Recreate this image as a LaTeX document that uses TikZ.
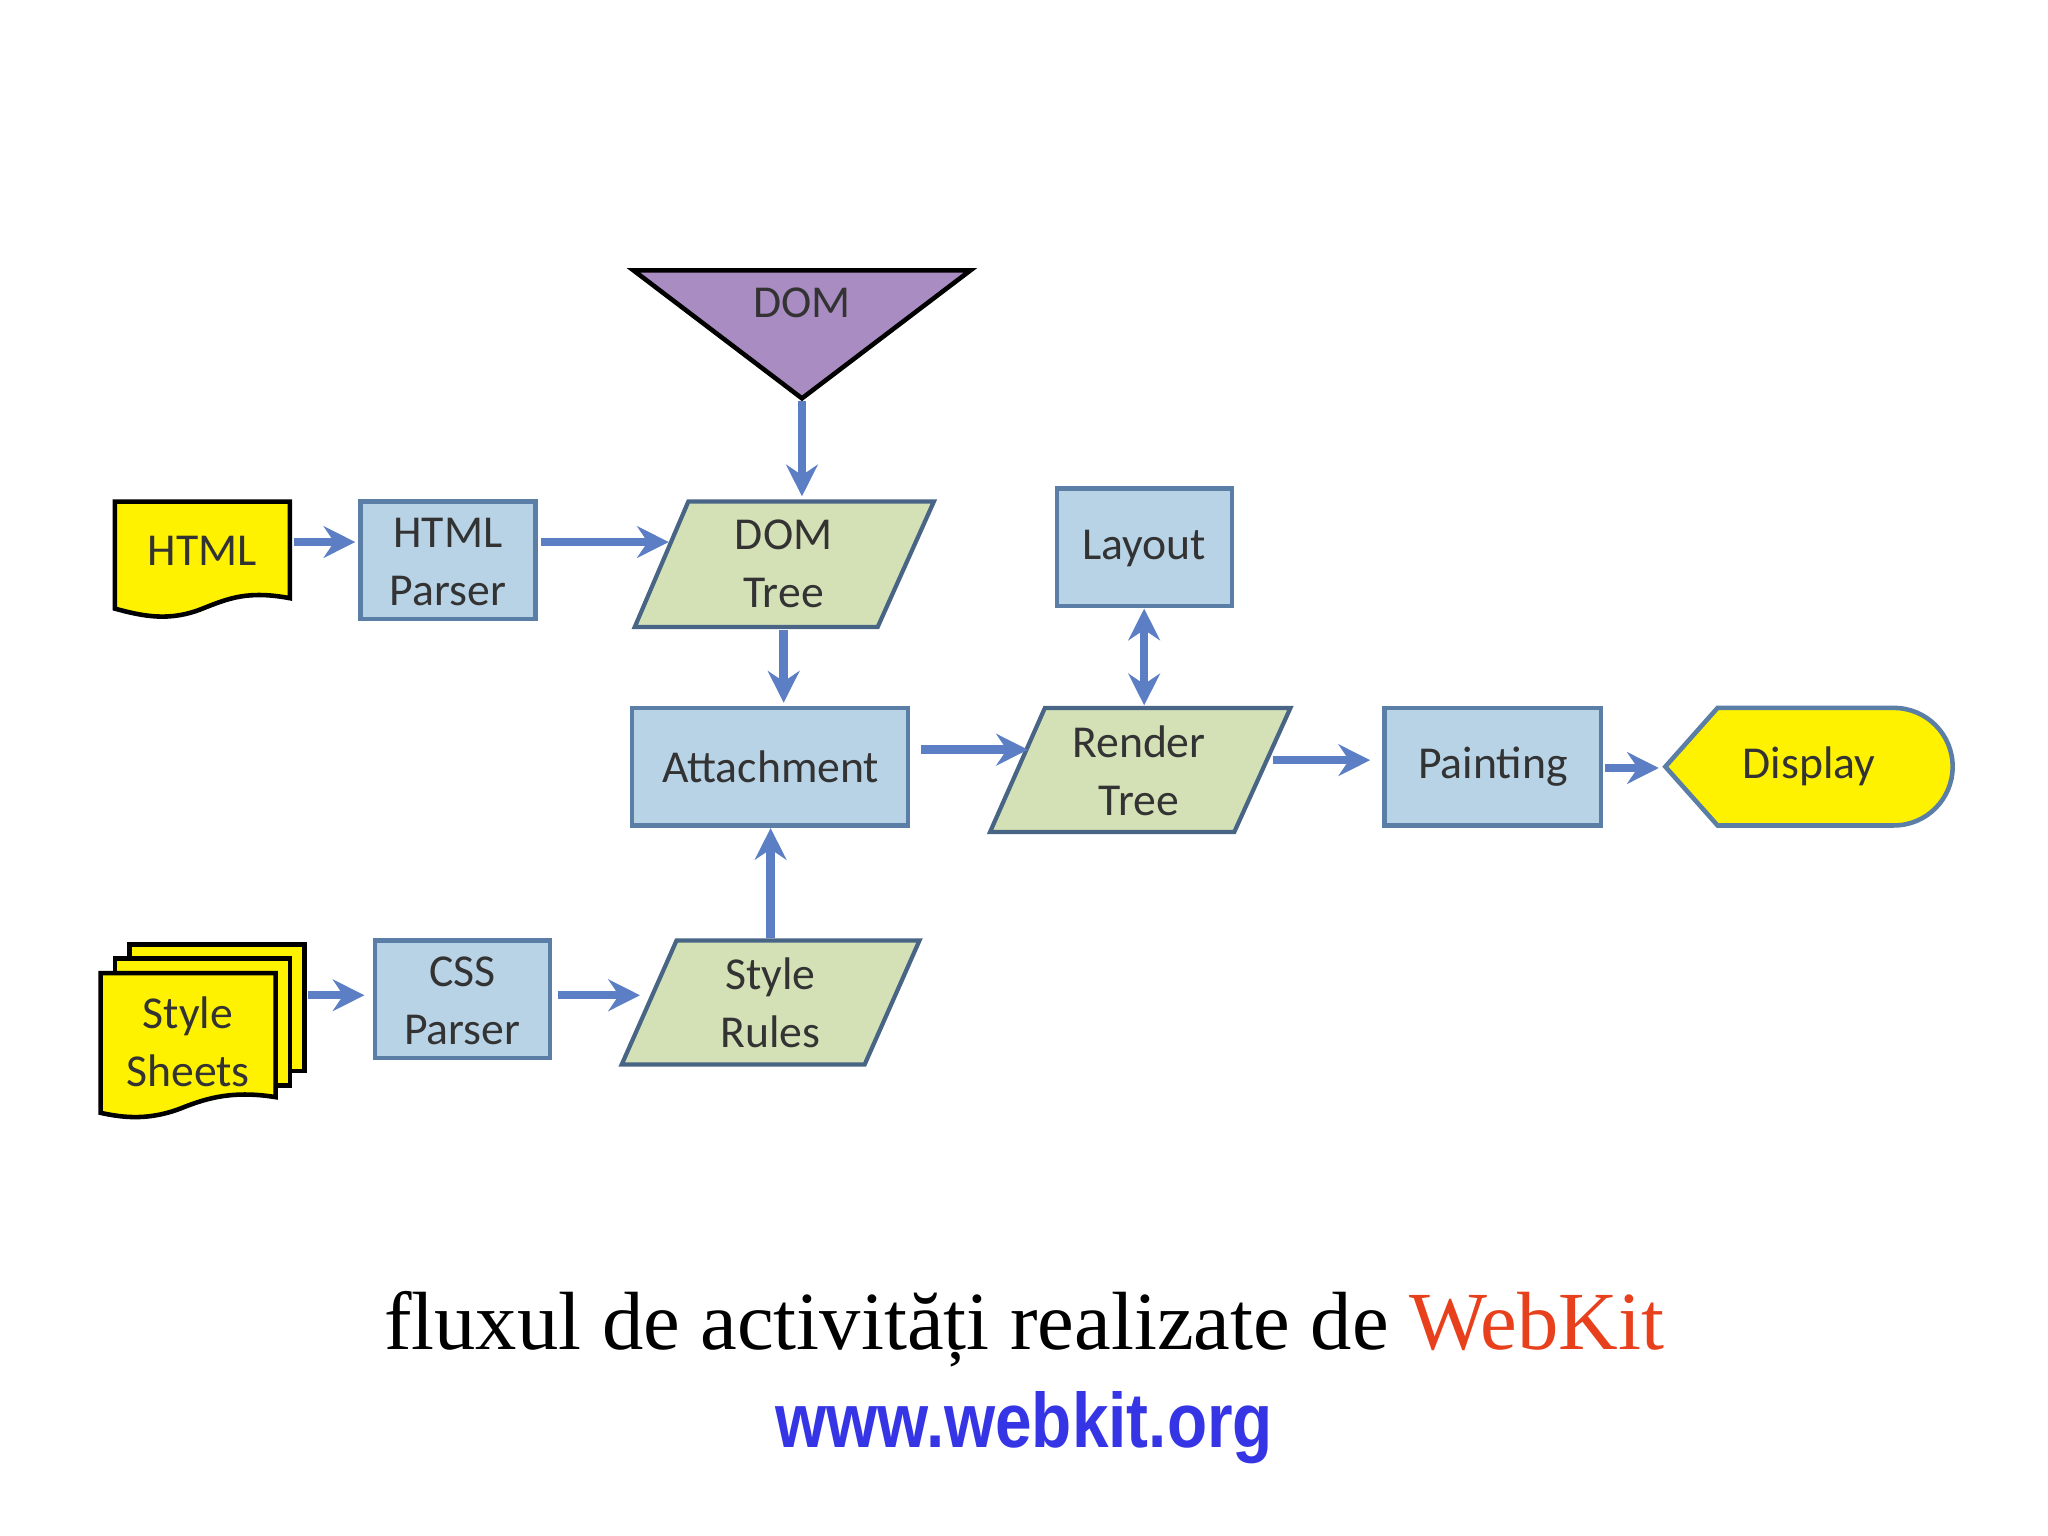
\documentclass[tikz,border=0pt]{standalone}
\usepackage{fontspec}
\setmainfont{Liberation Serif}
\newfontfamily\boxfont{Carlito}
\newfontfamily\urlfont{Liberation Sans}
\usetikzlibrary{arrows.meta}
\definecolor{boxblue}{HTML}{B8D3E6}
\definecolor{edge}{HTML}{5A7EA6}
\definecolor{para}{HTML}{D4E1B7}
\definecolor{purp}{HTML}{A98DC2}
\definecolor{arr}{HTML}{5B7EC4}
\definecolor{txt}{HTML}{333333}
\definecolor{wk}{HTML}{E8401C}
\definecolor{url}{HTML}{3535E6}
\begin{document}
\begin{tikzpicture}[x=0.01306cm,y=-0.01306cm,
  box/.style={draw=edge,line width=1.2pt,fill=boxblue},
  pg/.style={draw=edge!80!black,line width=1.2pt,fill=para},
  doc/.style={draw=black,line width=1.3pt,fill=yellow},
  lbl/.style={font=\boxfont\fontsize{13}{16.5}\selectfont,text=txt,align=center},
  ar/.style={draw=arr,line width=2.4pt,-{Stealth[length=9pt,width=9pt,inset=3pt]}},
  ar2/.style={draw=arr,line width=2.4pt,{Stealth[length=9pt,width=9pt,inset=3pt]}-{Stealth[length=9pt,width=9pt,inset=3pt]}}]
\useasboundingbox (0,0) rectangle (1568,1176);
% DOM triangle
\draw[fill=purp,draw=black,line width=1.3pt] (485,207) -- (743,207) -- (614,305) -- cycle;
\node[lbl] (dom) at (614,232) {DOM};
\coordinate (domtip) at (614,307);
% HTML doc
\draw[doc] (88,384) -- (222,384) -- (222,458) .. controls (190,452) and (175,458) .. (155,466) .. controls (130,476) and (110,472) .. (88,466) -- cycle;
\node[lbl] (html) at (155,422) {HTML};
\coordinate (htmlE) at (225,415);
% HTML parser
\draw[box] (276,384) rectangle (410,474);
\node[lbl] (hp) at (343,430) {HTML\\Parser};
\coordinate (hpE) at (414,415);
\coordinate (hpW) at (272,415);
% DOM Tree
\draw[pg] (527,384) -- (715,384) -- (672,480) -- (486,480) -- cycle;
\node[lbl] (dt) at (600,432) {DOM\\Tree};
\coordinate (dtW) at (512,415);
\coordinate (dtN) at (614,380);
\coordinate (dtS) at (600,482);
% Layout
\draw[box] (809,374) rectangle (943,464);
\node[lbl] (lay) at (876,420) {Layout};
\coordinate (layS) at (876,466);
% Attachment
\draw[box] (484,542) rectangle (695,632);
\node[lbl] (att) at (590,587) {Attachment};
\coordinate (attN) at (600,538);
\coordinate (attE) at (705,574);
\coordinate (attS) at (590,634);
% Render Tree
\draw[pg] (800,542) -- (988,542) -- (945,637) -- (758,637) -- cycle;
\node[lbl] (rt) at (872,590) {Render\\Tree};
\coordinate (rtW) at (787,574);
\coordinate (rtN) at (876,540);
\coordinate (rtE) at (975,582);
% Painting
\draw[box] (1060,542) rectangle (1226,632);
\node[lbl] (pa) at (1143,587) {Painting};
\coordinate (paW) at (1049,582);
\coordinate (paE) at (1229,588);
% Display
\draw[fill=yellow,draw=edge,line width=1.3pt] (1275,587) -- (1315,542) -- (1450,542) arc (-90:90:45) -- (1315,632) -- cycle;
\node[lbl] (di) at (1385,587) {Display};
\coordinate (diW) at (1270,588);
% Style sheets
\foreach \d in {22,11}{
\draw[doc] (77+\d,745-\d) -- (211+\d,745-\d) -- (211+\d,842-\d) -- (77+\d,842-\d) -- cycle;}
\draw[doc] (77,745) -- (211,745) -- (211,840) .. controls (180,835) and (160,840) .. (140,848) .. controls (115,858) and (95,856) .. (77,852) -- cycle;
\node[lbl] (ss) at (144,798) {Style\\Sheets};
\coordinate (ssE) at (236,762);
% CSS parser
\draw[box] (287,720) rectangle (421,810);
\node[lbl] (cp) at (354,766) {CSS\\Parser};
\coordinate (cpW) at (279,762);
\coordinate (cpE) at (427,762);
% Style Rules
\draw[pg] (518,720) -- (704,720) -- (662,815) -- (476,815) -- cycle;
\node[lbl] (sr) at (590,768) {Style\\Rules};
\coordinate (srW) at (490,762);
\coordinate (srN) at (590,718);
% arrows
\draw[ar] (htmlE) -- (hpW);
\draw[ar] (hpE) -- (dtW);
\draw[ar] (domtip) -- (dtN);
\draw[ar] (dtS) -- (attN);
\draw[ar] (attE) -- (rtW);
\draw[ar2] (layS) -- (rtN);
\draw[ar] (rtE) -- (paW);
\draw[ar] (paE) -- (diW);
\draw[ar] (srN) -- (attS);
\draw[ar] (ssE) -- (cpW);
\draw[ar] (cpE) -- (srW);
% caption
\node[font=\fontsize{23.5}{28}\selectfont] (cap) at (784,1018) {fluxul de activități realizate de \textcolor{wk}{WebKit}};
\node[font=\urlfont\bfseries\fontsize{22}{26}\selectfont,text=url,xscale=0.85] (u) at (784,1093) {www.webkit.org};
\end{tikzpicture}
\end{document}
